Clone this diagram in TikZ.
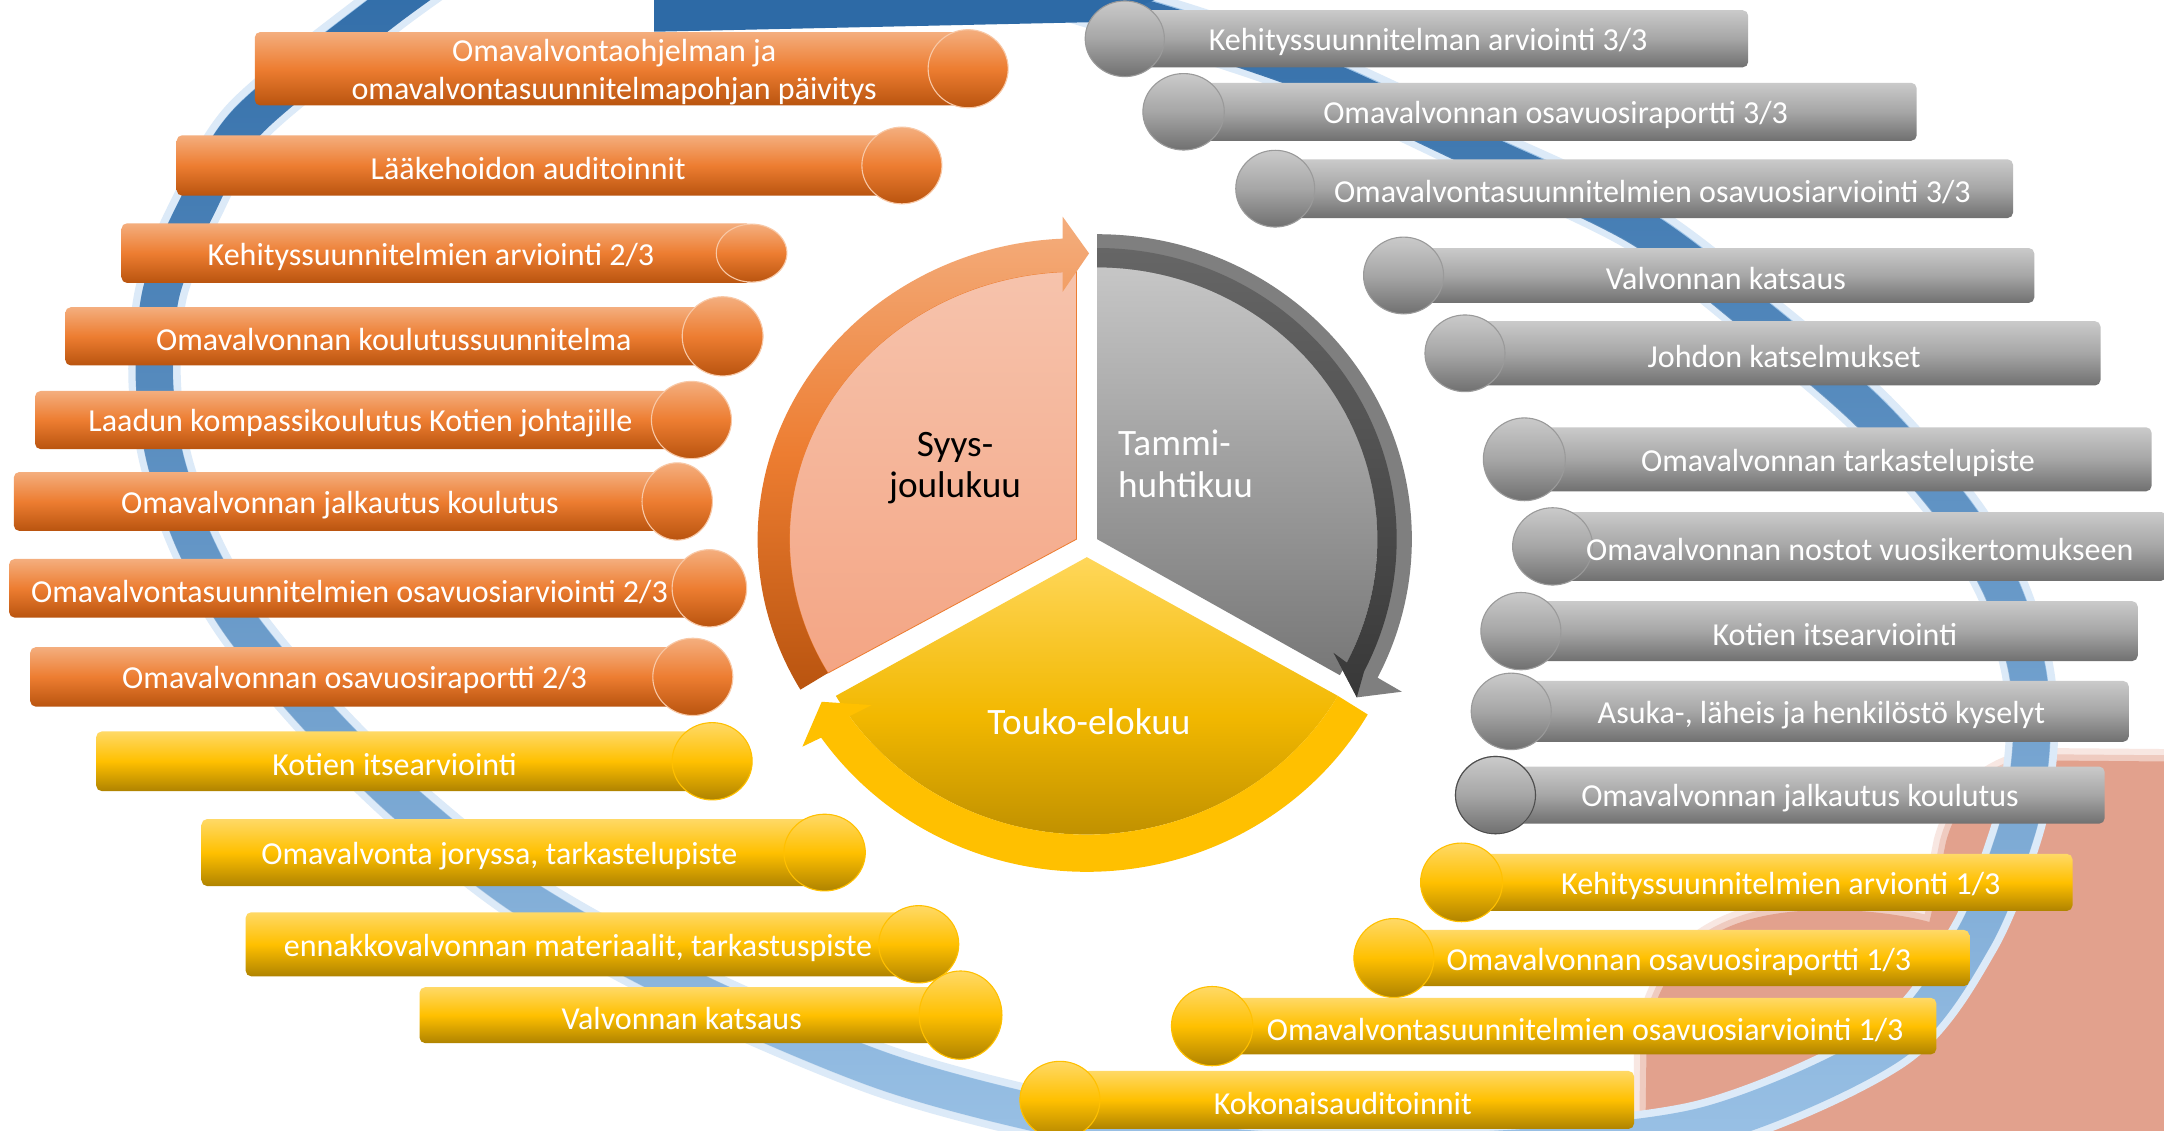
\documentclass[tikz,border=0pt]{standalone}
\usepackage{fontspec}
\setmainfont{Carlito}
\usetikzlibrary{fadings}
\definecolor{or1}{HTML}{F4AE7E}
\definecolor{or2}{HTML}{ED7D31}
\definecolor{or3}{HTML}{B9540F}
\definecolor{orline}{HTML}{F8C8A6}
\definecolor{gr1}{HTML}{CACACA}
\definecolor{gr2}{HTML}{A6A6A6}
\definecolor{gr3}{HTML}{707070}
\definecolor{grline}{HTML}{9A9A9A}
\definecolor{ye1}{HTML}{FFD966}
\definecolor{ye2}{HTML}{FFC000}
\definecolor{ye3}{HTML}{AF8300}
\definecolor{yeline}{HTML}{FFC000}
\definecolor{pk1}{HTML}{F6C3AC}
\definecolor{pk2}{HTML}{F4A584}
\definecolor{gf1}{HTML}{C6C6C6}
\definecolor{gf2}{HTML}{777777}
\definecolor{gb1}{HTML}{7F7F7F}
\definecolor{gd1}{HTML}{666666}
\definecolor{gd2}{HTML}{383838}
\definecolor{yf1}{HTML}{FFD75A}
\definecolor{yf2}{HTML}{F2B800}
\definecolor{yf3}{HTML}{B08400}
\definecolor{ringlight}{HTML}{9CC3E7}
\definecolor{ringdark}{HTML}{2D6AA6}
\definecolor{ringglow}{HTML}{DCEAF8}
\definecolor{salmon}{HTML}{E2A18D}
\tikzfading[name=ringfade, top color=transparent!0, bottom color=transparent!100]
\tikzset{
  orsh/.style={top color=or1, bottom color=or3, middle color=or2},
  grsh/.style={top color=gr1, bottom color=gr3, middle color=gr2},
  yesh/.style={top color=ye1, bottom color=ye3, middle color=ye2},
  bartext/.style={text=white, font=\fontsize{23.2}{27}\selectfont, inner sep=0pt, align=center},
  pietext/.style={font=\fontsize{27}{30}\selectfont, inner sep=0pt},
  ringglowst/.style={draw=ringglow, line width=38},
  ringbase/.style={draw=ringlight, line width=27},
  ringtop/.style={draw=ringdark, line width=27, path fading=ringfade},
  salmonhalo/.style={draw=salmon!25!white, line width=18},
  salmonedge/.style={draw=salmon!55!white, line width=9},
  salmonfill/.style={fill=salmon},
}
\newcommand\tdx{0}
% left cylinder: style, name, xL, yT, yB, ex, rx, ry, text
\newcommand\lcyl[9]{%
  \shade[#1sh, rounded corners=4pt] (#3,#4) rectangle (#6,#5);
  \shade[#1sh, draw=#1line, line width=0.8pt] (#6,{(#4+#5)/2}) ellipse[x radius=#7, y radius=#8];
  \node[bartext] (#2) at ({(#3+#6)/2+\tdx},{(#4+#5)/2+2.5}) {#9};
}
% right cylinder: style, name, ex, yT, yB, xR, rx, ry, text
\newcommand\rcyl[9]{%
  \shade[#1sh, rounded corners=4pt] (#3,#4) rectangle (#6,#5);
  \shade[#1sh, draw=#1line, line width=0.8pt] (#3,{(#4+#5)/2}) ellipse[x radius=#7, y radius=#8];
  \node[bartext] (#2) at ({(#3+#6)/2+\tdx},{(#4+#5)/2+2.5}) {#9};
}
\begin{document}
\begin{tikzpicture}[x=1pt,y=-1pt]
\useasboundingbox[fill=white] (0,0) rectangle (1568,819.5);

% salmon blob
\foreach \st in {salmonhalo, salmonedge, salmonfill}
  \path[\st] (1600,552) -- (1480,551) .. controls (1440,555) and (1418,580) .. (1410,610)
    .. controls (1404,640) and (1401,655) .. (1398,668)
    .. controls (1360,658) and (1300,655) .. (1262,668)
    .. controls (1220,682) and (1196,715) .. (1193,760) -- (1192,840) -- (1600,840) -- cycle;

% blue ring
\foreach \st in {ringglowst, ringbase, ringtop}
  \path[\st] plot[smooth] coordinates {(345,-40) (280,6) (180,87) (142,151) (117,211) (112,274)
    (120,333) (142,395) (175,453) (231,520) (295,583) (381,651) (501,717) (640,776) (767,810)
    (900,832) (1060,834) (1234,816) (1371,756) (1430,680) (1462,600) (1472,540) (1469,485)
    (1450,425) (1416,369) (1355,299) (1277,232) (1188,164) (1066,106) (956,55) (860,22) (770,-5) (700,-30)};
\fill[ringdark] (474,-5) -- (474,23) -- (794,16) -- (850,-5) -- cycle;

% left bars
\renewcommand\tdx{2}
\lcyl{or}{o1}{184.6}{23.2}{76.4}{701.5}{29}{28.3}{Omavalvontaohjelman ja\\omavalvontasuunnitelmapohjan päivitys}
\renewcommand\tdx{-8}
\lcyl{or}{o2}{128}{98}{141.8}{653.5}{29}{27.8}{Lääkehoidon auditoinnit}
\renewcommand\tdx{-4}
\lcyl{or}{o3}{88}{161.8}{205}{544.6}{25.6}{21}{Kehityssuunnitelmien arviointi 2/3}
\renewcommand\tdx{0}
\lcyl{or}{o4}{47.3}{222.6}{264.8}{523.6}{29.3}{28.7}{Omavalvonnan koulutussuunnitelma}
\renewcommand\tdx{-2}
\lcyl{or}{o5}{25.4}{283.3}{325.4}{501}{29}{28}{Laadun kompassikoulutus Kotien johtajille}
\renewcommand\tdx{-4}
\lcyl{or}{o6}{10}{342}{384.7}{490.7}{25.5}{28}{Omavalvonnan jalkautus koulutus}
\renewcommand\tdx{-7}
\lcyl{or}{o7}{6.6}{405}{447.5}{514}{27}{28}{Omavalvontasuunnitelmien osavuosiarviointi 2/3}
\renewcommand\tdx{-5}
\lcyl{or}{o8}{21.9}{468.9}{512}{502}{29}{28}{Omavalvonnan osavuosiraportti 2/3}
\renewcommand\tdx{-7}
\lcyl{ye}{y1}{69.7}{530}{573.2}{516}{29}{28}{Kotien itsearviointi}
\renewcommand\tdx{-10}
\lcyl{ye}{y2}{146}{593.5}{642}{597.5}{29.5}{27.8}{Omavalvonta joryssa, tarkastelupiste}
\renewcommand\tdx{-3}
\lcyl{ye}{y3}{178}{661}{707.4}{665.7}{29}{28}{ennakkovalvonnan materiaalit, tarkastuspiste}
\renewcommand\tdx{-6}
\lcyl{ye}{y4}{304}{715.3}{755.8}{696}{30}{32}{Valvonnan katsaus}

% right bars
\renewcommand\tdx{-6}
\rcyl{gr}{g1}{815}{7.4}{48.8}{1266.7}{28.7}{27.4}{Kehityssuunnitelman arviointi 3/3}
\renewcommand\tdx{4}
\rcyl{gr}{g2}{857.6}{60}{102}{1388.8}{29.5}{27.7}{Omavalvonnan osavuosiraportti 3/3}
\renewcommand\tdx{6}
\rcyl{gr}{g3}{924}{115.4}{158}{1458.6}{28.6}{27.8}{Omavalvontasuunnitelmien osavuosiarviointi 3/3}
\renewcommand\tdx{5}
\rcyl{gr}{g4}{1017}{179.7}{219.5}{1474}{29}{27.8}{Valvonnan katsaus}
\renewcommand\tdx{1}
\rcyl{gr}{g5}{1061.5}{232.7}{279.3}{1522}{29}{27.8}{Johdon katselmukset}
\renewcommand\tdx{0}
\rcyl{gr}{g6}{1104.5}{309.6}{356}{1559}{29.7}{30}{Omavalvonnan tarkastelupiste}
\rcyl{gr}{g7}{1125}{371}{420.8}{1570}{29}{28}{Omavalvonnan nostot vuosikertomukseen}
\renewcommand\tdx{4}
\rcyl{gr}{g8}{1102}{435.6}{479}{1549}{29}{28}{Kotien itsearviointi}
\renewcommand\tdx{1}
\rcyl{gr}{g9}{1095}{493.4}{537.5}{1542.5}{29}{27.7}{Asuka-, läheis ja henkilöstö kyselyt}
\renewcommand\tdx{0}
\rcyl{gr}{g10}{1083.6}{555.4}{596.8}{1525}{29}{28}{Omavalvonnan jalkautus koulutus}
\draw[gr3!70!black, line width=0.8pt] (1083.6,576.1) ellipse[x radius=29, y radius=28];
\renewcommand\tdx{10}
\rcyl{ye}{y5}{1059}{618.7}{660}{1501.7}{29.7}{28.5}{Kehityssuunnitelmien arvionti 1/3}
\renewcommand\tdx{-2}
\rcyl{ye}{y6}{1010}{673.8}{714.5}{1427}{29}{28.6}{Omavalvonnan osavuosiraportti 1/3}
\renewcommand\tdx{8}
\rcyl{ye}{y7}{878.3}{723}{764}{1403}{29.5}{28.7}{Omavalvontasuunnitelmien osavuosiarviointi 1/3}
\renewcommand\tdx{-3}
\rcyl{ye}{y8}{768}{776}{818}{1184}{29}{28}{Kokonaisauditoinnit}

% central cycle
\begin{scope}[shift={(787.5,395)}, y=1pt]
  % orange sector
  \begin{scope}[shift={(-7.5,4.3)}]
    \shade[top color=pk1, bottom color=pk2, draw=or2, line width=0.6pt]
      (0,0) -- (90:208 and 194) arc[start angle=90, end angle=210, x radius=208, y radius=194] -- cycle;
    \shade[top color=or1, bottom color=or3, middle color=or2]
      (210:231 and 218) arc[start angle=210, end angle=92.48, x radius=231, y radius=218]
      -- (-10,233.7) -- (9.1,207.1) -- (-10,179.3)
      -- (92.76:208 and 194) arc[start angle=92.76, end angle=210, x radius=208, y radius=194] -- cycle;
  \end{scope}
  % gray sector
  \begin{scope}[shift={(7.5,4.3)}]
    \shade[top color=gf1, bottom color=gf2]
      (0,0) -- (90:203 and 197) arc[start angle=90, end angle=-30, x radius=203, y radius=197] -- cycle;
    \fill[gb1]
      (90:228 and 221) arc[start angle=90, end angle=-27, x radius=228, y radius=221]
      -- (220.7,-110.5) -- (188.1,-114.6) -- (171.2,-82.3)
      -- (-27:203 and 197) arc[start angle=-27, end angle=90, x radius=203, y radius=197] -- cycle;
    \shade[top color=gd1, bottom color=gd2]
      (90:217 and 211) arc[start angle=90, end angle=-27, x radius=217, y radius=211]
      -- (193.4,-95.8) -- (188.1,-114.6) -- (171.2,-82.3)
      -- (-27:203 and 197) arc[start angle=-27, end angle=90, x radius=203, y radius=197] -- cycle;
  \end{scope}
  % yellow sector
  \begin{scope}[shift={(0,-8.7)}]
    \shade[top color=yf1, bottom color=yf3, middle color=yf2]
      (0,0) -- (-30:210 and 201) arc[start angle=-30, end angle=-150, x radius=210, y radius=201] -- cycle;
    \fill[ye2]
      (-30:235 and 228) arc[start angle=-30, end angle=-145, x radius=235, y radius=228]
      -- (-206.1,-137.3) -- (-192.1,-104.8) -- (-155.9,-107.2)
      -- (-145:210 and 201) arc[start angle=-145, end angle=-30, x radius=210, y radius=201] -- cycle;
  \end{scope}
\end{scope}

\node[pietext, align=center] (syys) at (692,339) {Syys-\\joulukuu};
\node[pietext, text=white, align=left, anchor=west] (tammi) at (810,336) {Tammi-\\huhtikuu};
\node[pietext, text=white] (touko) at (789,523) {Touko-elokuu};
\end{tikzpicture}
\end{document}
